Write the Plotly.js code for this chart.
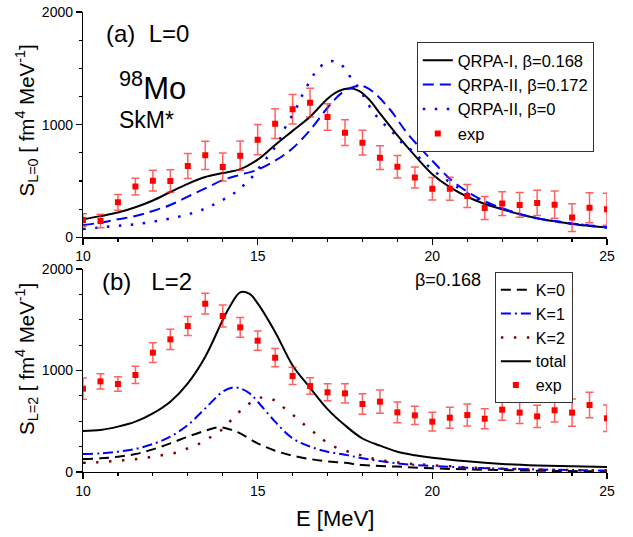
<!DOCTYPE html>
<html>
<head>
<meta charset="utf-8">
<script src="https://cdn.plot.ly/plotly-3.0.1.min.js"></script>
<style>html,body{margin:0;padding:0;background:#fff;}#chart{width:633px;height:537px;}</style>
</head>
<body>
<div id="chart"></div>
<script>
// ---------- data ----------
const E_exp = [10,10.5,11,11.5,12,12.5,13,13.5,14,14.5,15,15.5,16,16.5,17,17.5,18,18.5,19,19.5,20,20.5,21,21.5,22,22.5,23,23.5,24,24.5,25];

// (a) L=0
const expL0 = [154,145,311,450,503,500,633,728,624,725,867,1009,1136,1195,1068,929,840,707,627,530,432,432,367,260,299,287,305,290,175,263,249];
const expL0err = [55,60,70,75,93,100,110,125,125,130,135,133,131,128,118,115,110,105,100,93,100,102,102,103,105,110,112,120,123,133,142];

const qrpa1_E = [10,10.5,11,11.5,12,12.5,13,13.5,14,14.5,15,15.5,16,16.5,17,17.3,17.6,17.9,18.2,18.5,19,19.5,20,20.5,21,21.5,22,22.5,23,23.5,24,24.5,25];
const qrpa1_S = [160,188,220,267,327,402,475,535,570,605,690,820,945,1070,1230,1295,1322,1300,1220,1100,905,725,560,445,360,296,249,205,170,142,118,101,86];

const qrpa2_E = [10,10.5,11,11.5,12,12.5,13,13.5,14,14.5,15,15.5,16,16.5,17,17.4,17.7,18,18.3,18.8,19.25,19.75,20,20.5,21,21.5,22,22.5,23,23.5,24,24.5,25];
const qrpa2_S = [109,130,160,189,234,287,361,434,508,555,600,680,790,952,1150,1280,1330,1343,1292,1130,937,760,680,520,405,320,258,208,170,145,123,106,89];

const qrpa2b0_E = [10,10.4,10.8,11.2,11.6,12,12.4,12.8,13.2,13.55,13.9,14.25,14.55,14.85,15.1,15.35,15.6,15.75,15.95,16.15,16.3,16.5,16.7,17.05,17.4,17.65,17.9,18.1,18.3,18.55,18.85,19.1,19.4,19.7,20,20.5,21,21.5,22,22.5,23,23.5,24,24.5,25];
const qrpa2b0_S = [73,85,97,107,119,139,161,187,222,262,316,375,449,538,641,739,848,952,1061,1174,1277,1387,1484,1564,1529,1425,1322,1218,1115,1026,937,848,775,686,600,490,390,312,252,205,168,142,120,103,88];

// (b) L=2
const expL2 = [821,893,867,956,1176,1307,1438,1658,1537,1425,1294,1126,946,847,785,775,670,693,588,558,496,535,562,525,614,585,548,608,585,660,529];
const expL2err = [105,75,72,85,97,100,94,102,108,97,94,90,85,82,84,95,100,115,102,90,92,103,108,98,105,107,110,115,135,125,130];

const total_E = [10,10.5,11,11.5,12,12.5,13,13.5,14,14.2,14.5,14.77,15,15.5,16,16.5,17,17.5,18,18.5,19,19.5,20,21,22,23,24,25];
const total_S = [404,414,447,496,578,693,874,1136,1497,1629,1770,1754,1662,1380,1050,830,620,460,330,260,200,165,140,105,80,65,56,50];

const k1_E = [10,10.5,11,11.5,12,12.5,13,13.5,14,14.3,14.5,14.77,15,15.5,16,16.5,17,17.5,18,19,20,21,22,23,24,25];
const k1_S = [177,184,200,227,276,348,463,627,791,834,824,775,693,496,332,250,200,170,135,85,59,43,32,25,19,15];

const k0_E = [10,10.5,11,11.5,12,12.5,13,13.5,13.9,14.2,14.5,15,15.5,16,16.5,17,17.5,18,19,20,21,22,23,24,25];
const k0_S = [128,135,151,177,223,282,348,407,440,420,381,282,210,161,128,105,90,69,53,36,26,19,13,9,7];

const k2_E = [10,10.4,10.8,11.15,11.55,11.9,12.3,12.7,13.05,13.4,13.7,14,14.25,14.5,14.8,15.15,15.5,15.8,16.1,16.4,16.7,16.95,17.3,17.7,18.1,18.45,18.85,19.2,19.6,20,20.5,21,21.5,22,22.5,23,23.5,24,24.5,25];
const k2_S = [92,95,105,115,128,145,168,194,240,289,355,424,513,601,683,736,703,618,536,447,368,299,233,190,151,118,102,85,76,66,57,46,37,32,28,23,20,19,16,15];

const xTicks = [10,15,20,25];
const yTicks = [0,1000,2000];

// ---------- styling ----------
const FONT = 'Liberation Sans, Arial, sans-serif';
const RED = '#ff0000';
const ERR = 'rgba(255,30,30,0.7)';

function expTrace(y, err, xa, ya, leg) {
  return {
    x: E_exp, y: y, xaxis: xa, yaxis: ya, legend: leg,
    type: 'scatter', mode: 'markers', name: 'exp',
    marker: {symbol: 'square', size: 6, color: RED},
    error_y: {type: 'data', array: err, visible: true, color: ERR, thickness: 1.5, width: 4}
  };
}

const traces = [
  {x: qrpa1_E, y: qrpa1_S, xaxis: 'x', yaxis: 'y', legend: 'legend', type: 'scatter', mode: 'lines',
   name: 'QRPA-I, β=0.168', line: {color: '#000', width: 2, shape: 'spline'}},
  {x: qrpa2_E, y: qrpa2_S, xaxis: 'x', yaxis: 'y', legend: 'legend', type: 'scatter', mode: 'lines',
   name: 'QRPA-II, β=0.172', line: {color: '#0000ff', width: 2, dash: '11px,6px', shape: 'spline'}},
  {x: qrpa2b0_E, y: qrpa2b0_S, xaxis: 'x', yaxis: 'y', legend: 'legend', type: 'scatter', mode: 'lines',
   name: 'QRPA-II, β=0', line: {color: '#0000ff', width: 2.5, dash: '2.5px,9.5px', shape: 'spline'}},
  expTrace(expL0, expL0err, 'x', 'y', 'legend'),

  {x: k0_E, y: k0_S, xaxis: 'x2', yaxis: 'y2', legend: 'legend2', type: 'scatter', mode: 'lines',
   name: 'K=0', line: {color: '#000', width: 2, dash: '10px,6px', shape: 'spline'}},
  {x: k1_E, y: k1_S, xaxis: 'x2', yaxis: 'y2', legend: 'legend2', type: 'scatter', mode: 'lines',
   name: 'K=1', line: {color: '#0000ff', width: 2, dash: '10px,4px,2px,4px', shape: 'spline'}},
  {x: k2_E, y: k2_S, xaxis: 'x2', yaxis: 'y2', legend: 'legend2', type: 'scatter', mode: 'lines',
   name: 'K=2', line: {color: '#800000', width: 2.5, dash: '2.5px,10.5px', shape: 'spline'}},
  {x: total_E, y: total_S, xaxis: 'x2', yaxis: 'y2', legend: 'legend2', type: 'scatter', mode: 'lines',
   name: 'total', line: {color: '#000', width: 2, shape: 'spline'}},
  expTrace(expL2, expL2err, 'x2', 'y2', 'legend2')
];

function xAxis(anchor) {
  return {
    domain: [0, 1], anchor: anchor, range: [10, 25],
    tickvals: xTicks, ticktext: xTicks.map(String),
    ticks: 'outside', ticklen: 6, tickwidth: 1.2, tickcolor: '#000',
    minor: {dtick: 1, tick0: 10, ticks: 'outside', ticklen: 3, tickwidth: 1.2, tickcolor: '#000', showgrid: false},
    showline: true, linecolor: '#000', linewidth: 1.2, mirror: false,
    showgrid: false, zeroline: false,
    tickfont: {family: FONT, size: 14, color: '#000'}
  };
}
function yAxis(anchor, dom) {
  return {
    domain: dom, anchor: anchor, range: [0, 2000],
    tickvals: yTicks, ticktext: yTicks.map(String),
    ticks: 'outside', ticklen: 6, tickwidth: 1.2, tickcolor: '#000',
    minor: {dtick: 250, tick0: 0, ticks: 'outside', ticklen: 3, tickwidth: 1.2, tickcolor: '#000', showgrid: false},
    showline: true, linecolor: '#000', linewidth: 1.2,
    showgrid: false, zeroline: false,
    tickfont: {family: FONT, size: 14, color: '#000'}
  };
}

const layout = {
  width: 633, height: 537,
  margin: {l: 83, r: 26, t: 12, b: 65},
  paper_bgcolor: '#fff', plot_bgcolor: '#fff',
  font: {family: FONT, color: '#000'},
  xaxis: xAxis('y'),
  yaxis: yAxis('x', [0.5102, 1]),
  xaxis2: xAxis('y2'),
  yaxis2: yAxis('x2', [0, 0.4413]),
  showlegend: true,
  legend: {
    x: 0.637, y: 0.935, xanchor: 'left', yanchor: 'top',
    bgcolor: '#fff', bordercolor: '#333', borderwidth: 1,
    font: {family: FONT, size: 16.5, color: '#000'},
    tracegroupgap: 0, itemwidth: 30
  },
  legend2: {
    x: 0.786, y: 0.435, xanchor: 'left', yanchor: 'top',
    bgcolor: '#fff', bordercolor: '#333', borderwidth: 1,
    font: {family: FONT, size: 16, color: '#000'},
    tracegroupgap: 0, itemwidth: 30
  },
  annotations: [
    {xref: 'x', yref: 'y', x: 10.6, y: 1813, xanchor: 'left', yanchor: 'middle', showarrow: false,
     text: '(a)&nbsp;&nbsp;L=0', font: {family: FONT, size: 24}},
    {xref: 'x', yref: 'y', x: 10.97, y: 1340, xanchor: 'left', yanchor: 'middle', showarrow: false,
     text: '<sup>98</sup>Mo', font: {family: FONT, size: 31}},
    {xref: 'x', yref: 'y', x: 10.97, y: 1041, xanchor: 'left', yanchor: 'middle', showarrow: false,
     text: 'SkM*', font: {family: FONT, size: 23}},
    {xref: 'x2', yref: 'y2', x: 10.5, y: 1872, xanchor: 'left', yanchor: 'middle', showarrow: false,
     text: '(b)&nbsp;&nbsp;&nbsp;L=2', font: {family: FONT, size: 24}},
    {xref: 'x2', yref: 'y2', x: 19.45, y: 1892, xanchor: 'left', yanchor: 'middle', showarrow: false,
     text: 'β=0.168', font: {family: FONT, size: 18}},
    {xref: 'paper', yref: 'paper', x: -0.107, y: 0.764, xanchor: 'center', yanchor: 'middle', showarrow: false,
     textangle: -90, text: 'S<sub>L=0</sub> [ fm<sup>4</sup> MeV<sup>-1</sup>]', font: {family: FONT, size: 20.5}},
    {xref: 'paper', yref: 'paper', x: -0.107, y: 0.2457, xanchor: 'center', yanchor: 'middle', showarrow: false,
     textangle: -90, text: 'S<sub>L=2</sub> [ fm<sup>4</sup> MeV<sup>-1</sup>]', font: {family: FONT, size: 20.5}},
    {xref: 'paper', yref: 'paper', x: 0.481, y: -0.102, xanchor: 'center', yanchor: 'middle', showarrow: false,
     text: 'E [MeV]', font: {family: FONT, size: 22}}
  ]
};

Plotly.newPlot('chart', traces, layout, {displayModeBar: false, staticPlot: true});
</script>
</body>
</html>
